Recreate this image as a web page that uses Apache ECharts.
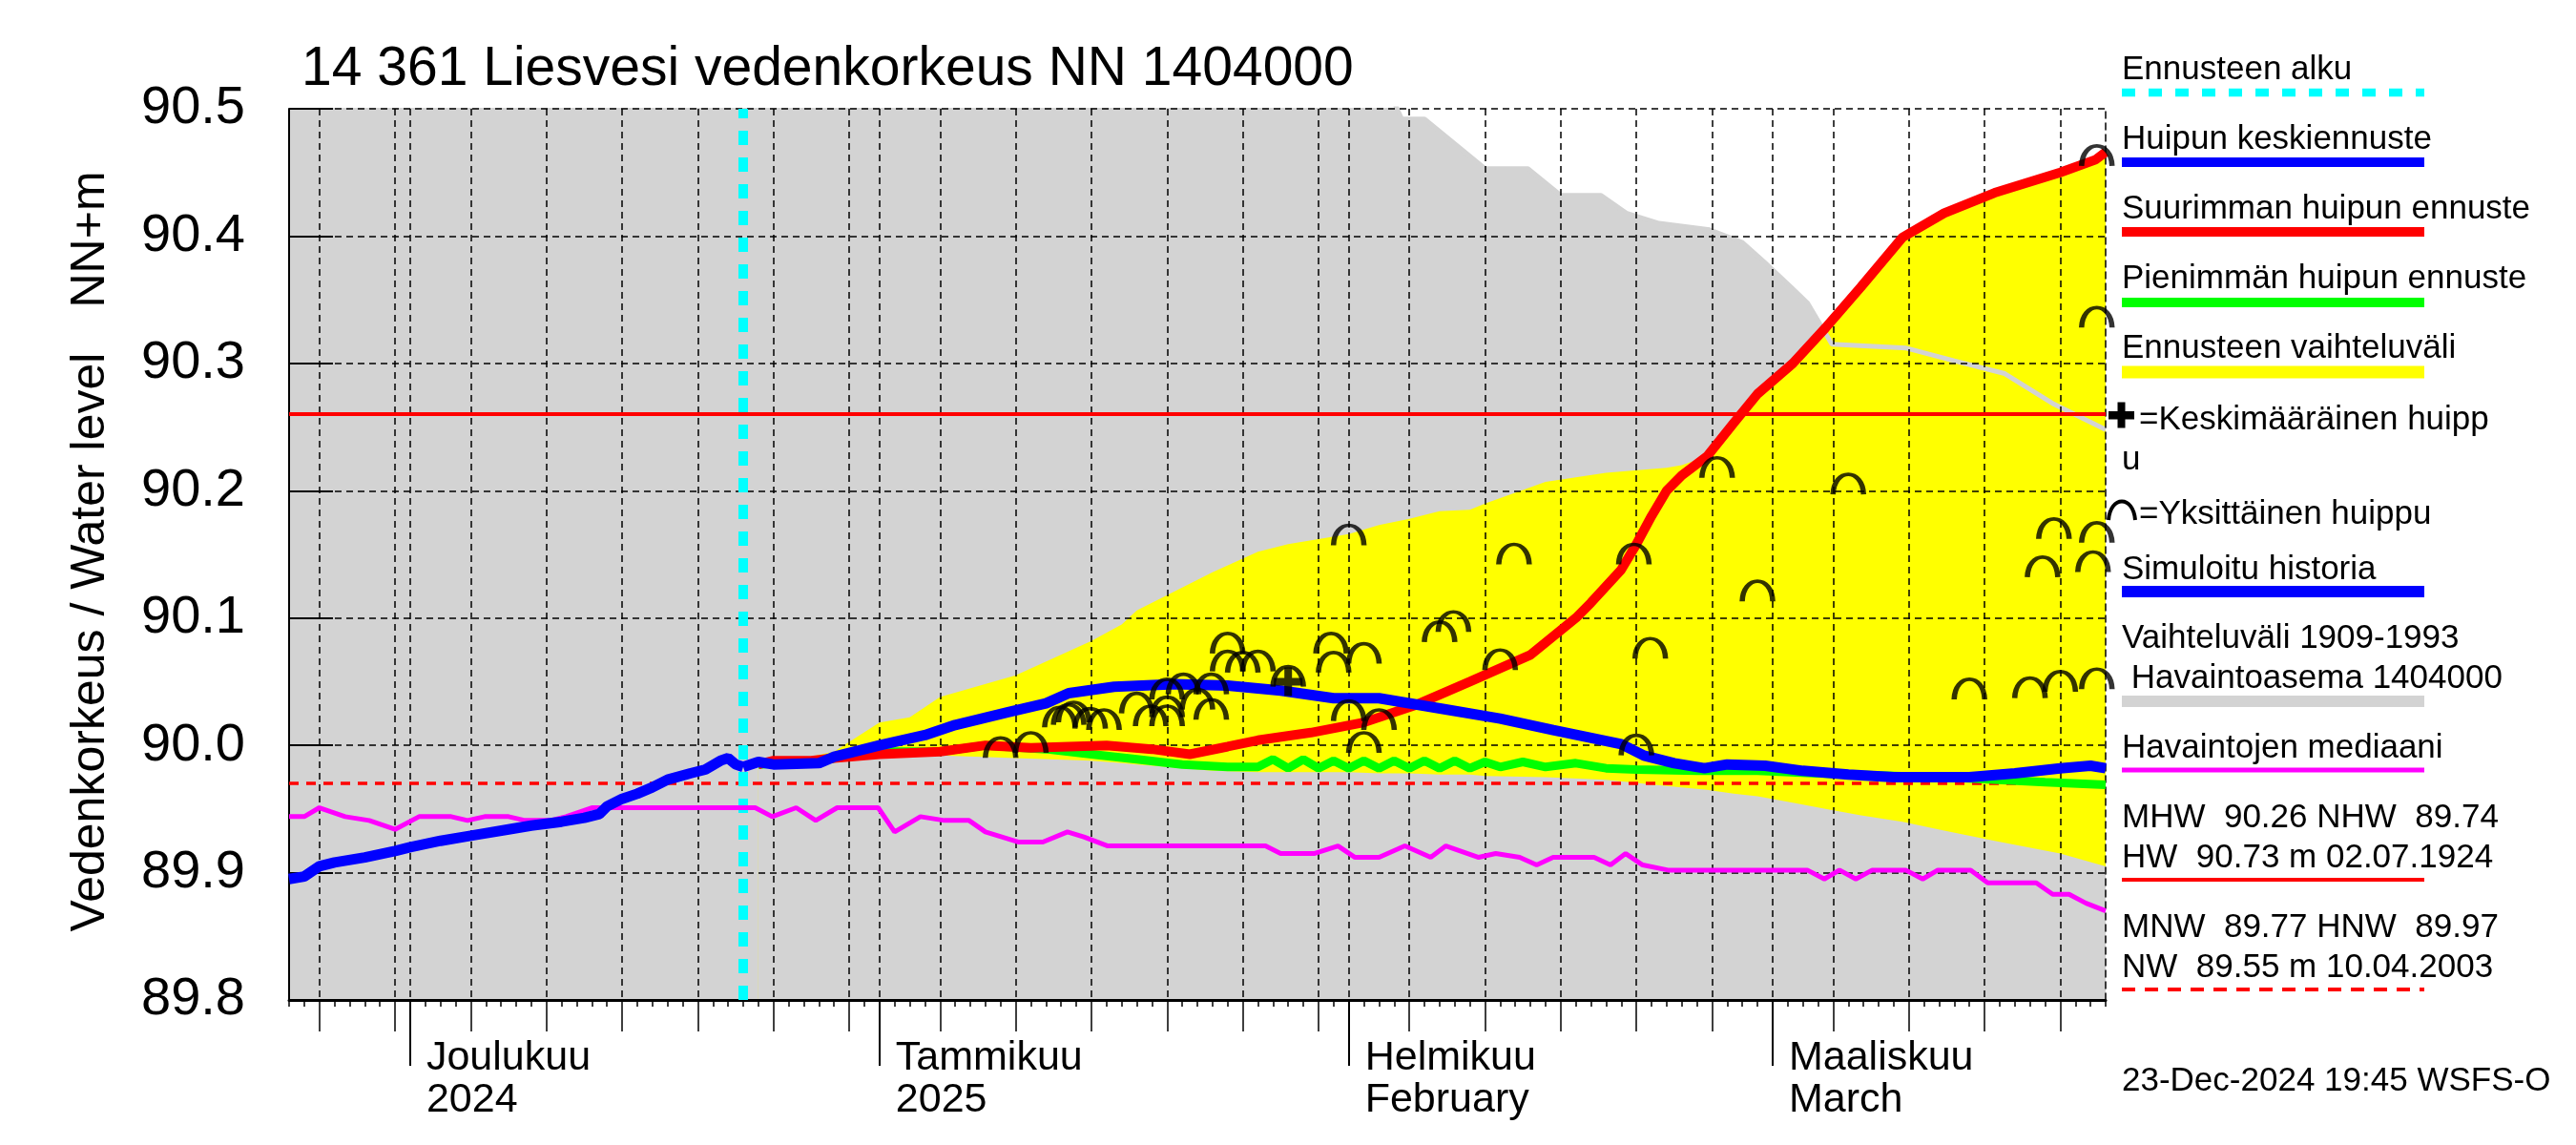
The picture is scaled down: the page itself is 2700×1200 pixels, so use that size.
<!DOCTYPE html>
<html><head><meta charset="utf-8">
<script src="https://cdn.jsdelivr.net/npm/echarts@6/dist/echarts.min.js"></script>
<style>html,body{margin:0;padding:0;background:#fff}#c{width:2700px;height:1200px}</style>
</head><body><div id="c"></div>
<script>
// ---------- data ----------
const START = '2024-11-23', END = '2025-03-23', FORECAST = '2024-12-23';
const yMin = 89.8, yMax = 90.5, yStep = 0.1;
const MHW = 90.26, HNW = 89.97;
const monthDates = ['2024-12-01','2025-01-01','2025-02-01','2025-03-01'];
const monthLabels = ['Joulukuu\n2024','Tammikuu\n2025','Helmikuu\nFebruary','Maaliskuu\nMarch'];
const gridDates = ['2024-11-25','2024-11-30','2024-12-01','2024-12-05','2024-12-10','2024-12-15','2024-12-20','2024-12-25','2024-12-30',
  '2025-01-01','2025-01-05','2025-01-10','2025-01-15','2025-01-20','2025-01-25','2025-01-30',
  '2025-02-01','2025-02-05','2025-02-10','2025-02-15','2025-02-20','2025-02-25',
  '2025-03-01','2025-03-05','2025-03-10','2025-03-15','2025-03-20'];

// Vaihteluväli 1909-1993 (upper edge; band reaches below axis)
const grayDates = ['2024-11-23','2025-02-03','2025-02-04','2025-02-04T12','2025-02-06','2025-02-10','2025-02-12T20','2025-02-15','2025-02-17T16',
  '2025-02-19T08','2025-02-21T12','2025-02-24T20','2025-02-27','2025-02-28T12','2025-03-02T05','2025-03-03T08','2025-03-04T22',
  '2025-03-09T20','2025-03-13','2025-03-16T08','2025-03-19T14','2025-03-23'];
const grayUpper = [90.6,90.56,90.505,90.492,90.492,90.453,90.453,90.432,90.432,
  90.418,90.41,90.405,90.395,90.379,90.36,90.347,90.315,
  90.312,90.302,90.292,90.268,90.248];

// Ennusteen vaihteluväli
const yellowDates = ['2024-12-24','2024-12-27','2024-12-29','2025-01-01','2025-01-03','2025-01-05','2025-01-10','2025-01-15','2025-01-17',
  '2025-01-18','2025-01-20','2025-01-23','2025-01-26','2025-01-28','2025-02-01','2025-02-03','2025-02-05','2025-02-07','2025-02-09',
  '2025-02-10','2025-02-14','2025-02-18','2025-02-22','2025-02-23','2025-02-24T16','2025-02-26T10','2025-02-28','2025-03-02T08',
  '2025-03-04T12','2025-03-06T20','2025-03-09T14','2025-03-12T08','2025-03-15T16','2025-03-20','2025-03-23'];
const yellowLower = [89.984,89.985,89.987,89.99,89.992,89.992,89.99,89.988,89.986,
  89.985,89.983,89.98,89.979,89.979,89.979,89.978,89.978,89.977,89.977,
  89.976,89.975,89.973,89.968,89.967,89.965,89.962,89.96,89.955,
  89.95,89.945,89.94,89.933,89.925,89.915,89.905];
const yellowUpper = [89.986,89.99,89.995,90.018,90.022,90.038,90.055,90.082,90.095,
  90.106,90.118,90.136,90.152,90.158,90.166,90.173,90.178,90.184,90.185,
  90.19,90.207,90.214,90.218,90.22,90.227,90.253,90.276,90.3,
  90.328,90.36,90.399,90.418,90.434,90.45,90.466];

// Simuloitu historia
const histDates = ['2024-11-23','2024-11-24','2024-11-25','2024-11-26','2024-11-28','2024-11-30','2024-12-01','2024-12-03','2024-12-05',
  '2024-12-07T12','2024-12-09','2024-12-11','2024-12-12T12','2024-12-13T12','2024-12-14','2024-12-15','2024-12-16','2024-12-17',
  '2024-12-18','2024-12-19T12','2024-12-20T12','2024-12-21T12','2024-12-22','2024-12-22T12','2024-12-23'];
const histValues = [89.895,89.897,89.905,89.908,89.912,89.917,89.92,89.925,89.929,
  89.934,89.937,89.94,89.943,89.946,89.952,89.958,89.962,89.967,
  89.973,89.978,89.981,89.988,89.99,89.985,89.983];

// Huipun keskiennuste
const meanDates = ['2024-12-23','2024-12-24','2024-12-25','2024-12-28','2024-12-29','2025-01-01','2025-01-04','2025-01-06','2025-01-09T12',
  '2025-01-12','2025-01-13T12','2025-01-16T12','2025-01-20T12','2025-01-24','2025-01-27T12','2025-01-31','2025-02-03','2025-02-07T12',
  '2025-02-11','2025-02-14T12','2025-02-19','2025-02-20T12','2025-02-22T12','2025-02-24T12','2025-02-26','2025-02-28T12','2025-03-03',
  '2025-03-06','2025-03-09','2025-03-14','2025-03-17','2025-03-20','2025-03-22','2025-03-23'];
const meanValues = [89.983,89.987,89.985,89.986,89.991,90.0,90.008,90.016,90.026,
  90.033,90.041,90.046,90.048,90.047,90.043,90.037,90.037,90.028,
  90.021,90.012,90.001,89.992,89.986,89.982,89.985,89.984,89.98,
  89.977,89.975,89.975,89.978,89.982,89.984,89.982];

// Suurimman huipun ennuste
const maxDates = ['2024-12-24','2024-12-25','2024-12-27T12','2024-12-29','2025-01-01','2025-01-05','2025-01-08','2025-01-11','2025-01-16',
  '2025-01-19','2025-01-21T12','2025-01-24','2025-01-26','2025-01-29T12','2025-02-02','2025-02-05T12','2025-02-09','2025-02-13',
  '2025-02-16','2025-02-17','2025-02-18','2025-02-19','2025-02-20','2025-02-21','2025-02-22','2025-02-23','2025-02-24T16',
  '2025-02-26T10','2025-02-28','2025-03-02T08','2025-03-04T12','2025-03-06T20','2025-03-09T14','2025-03-12T08','2025-03-15T16',
  '2025-03-20','2025-03-22T08','2025-03-23'];
const maxValues = [89.985,89.988,89.988,89.99,89.993,89.995,90.0,89.998,90.0,
  89.997,89.993,89.999,90.004,90.01,90.018,90.032,90.05,90.071,
  90.1,90.112,90.125,90.138,90.158,90.18,90.2,90.212,90.227,
  90.253,90.276,90.3,90.328,90.36,90.399,90.418,90.434,
  90.45,90.46,90.466];

// Pienimmän huipun ennuste
const minDates = ['2024-12-24','2024-12-28','2025-01-01','2025-01-05','2025-01-08','2025-01-12','2025-01-15','2025-01-18','2025-01-21',
  '2025-01-24','2025-01-26','2025-01-27','2025-01-28','2025-01-29','2025-01-30','2025-01-31','2025-02-01','2025-02-02','2025-02-03',
  '2025-02-04','2025-02-05','2025-02-06','2025-02-07','2025-02-08','2025-02-09','2025-02-10','2025-02-11','2025-02-12T12','2025-02-14',
  '2025-02-16','2025-02-18','2025-02-20','2025-02-24','2025-02-28','2025-03-04','2025-03-09','2025-03-14','2025-03-19','2025-03-23'];
const minValues = [89.985,89.988,89.995,89.995,90.0,89.997,89.993,89.989,89.985,
  89.983,89.983,89.989,89.982,89.989,89.982,89.988,89.982,89.988,89.982,
  89.988,89.982,89.988,89.982,89.988,89.982,89.987,89.983,89.987,89.983,
  89.986,89.982,89.981,89.98,89.98,89.978,89.976,89.974,89.971,89.969];

// Havaintojen mediaani
const medianDates = ['2024-11-23','2024-11-24','2024-11-25','2024-11-26T17','2024-11-28T07','2024-11-30','2024-12-01T14','2024-12-03T17',
  '2024-12-04T19','2024-12-05T22','2024-12-07T12','2024-12-08T14','2024-12-10T07','2024-12-11T07','2024-12-13','2024-12-23T19',
  '2024-12-24T22','2024-12-26T12','2024-12-27T19','2024-12-29T05','2024-12-31T22','2025-01-02','2025-01-03T17','2025-01-05T07',
  '2025-01-06T22','2025-01-08','2025-01-10T05','2025-01-11T19','2025-01-13T10','2025-01-14T12','2025-01-16T02','2025-01-26T12',
  '2025-01-27T12','2025-01-29T17','2025-01-31T07','2025-02-01T10','2025-02-03','2025-02-04T17','2025-02-06T10','2025-02-07T10',
  '2025-02-09T14','2025-02-10T17','2025-02-12T07','2025-02-13T10','2025-02-14T12','2025-02-17T05','2025-02-18T07','2025-02-19T07',
  '2025-02-20T10','2025-02-22T02','2025-03-03T07','2025-03-04T10','2025-03-05T10','2025-03-06T12','2025-03-07T14','2025-03-09T19',
  '2025-03-10T22','2025-03-11T22','2025-03-14T02','2025-03-15T05','2025-03-18T10','2025-03-19T12','2025-03-20T14','2025-03-21T17','2025-03-23'];
const medianValues = [89.944,89.944,89.951,89.944,89.941,89.934,89.944,89.944,
  89.941,89.944,89.944,89.941,89.941,89.944,89.951,89.951,
  89.944,89.951,89.941,89.951,89.951,89.932,89.944,89.941,
  89.941,89.932,89.924,89.924,89.932,89.928,89.921,89.921,
  89.915,89.915,89.921,89.912,89.912,89.921,89.912,89.921,
  89.912,89.915,89.912,89.906,89.912,89.912,89.906,89.915,
  89.906,89.902,89.902,89.895,89.902,89.895,89.902,89.902,
  89.895,89.902,89.902,89.892,89.892,89.883,89.883,89.876,89.87];

// Yksittäinen huippu
const peakDates = ['2025-01-09','2025-01-11','2025-01-12T22','2025-01-13T12','2025-01-13T20','2025-01-14T22','2025-01-15T20',
  '2025-01-18','2025-01-18T22','2025-01-20','2025-01-20','2025-01-20','2025-01-21T02','2025-01-22','2025-01-22T22','2025-01-22T22',
  '2025-01-24','2025-01-24','2025-01-25','2025-01-26','2025-01-28',
  '2025-01-30T20','2025-01-31','2025-02-01','2025-02-01','2025-02-02','2025-02-03','2025-02-02',
  '2025-02-07','2025-02-07T22','2025-02-11','2025-02-11T22','2025-02-19T20','2025-02-20','2025-02-20T22',
  '2025-02-25T08','2025-02-28','2025-03-06','2025-03-14','2025-03-18','2025-03-18T20','2025-03-19T14','2025-03-20',
  '2025-03-22T10','2025-03-22T10','2025-03-22T10','2025-03-22T04','2025-03-22T10'];
const peakValues = [89.998,90.002,90.022,90.024,90.026,90.021,90.02,
  90.033,90.023,90.023,90.030,90.044,90.048,90.036,90.028,90.048,
  90.08,90.066,90.065,90.066,90.054,
  90.08,90.065,90.165,90.027,90.072,90.02,90.002,
  90.089,90.097,90.067,90.15,90.15,90.0,90.076,
  90.218,90.121,90.205,90.044,90.045,90.14,90.17,90.05,
  90.463,90.336,90.167,90.144,90.052];
// Keskimääräinen huippu
const meanPeakDate = ['2025-01-28'];
const meanPeakValue = [90.05];

// ---------- helpers ----------
function t(s){ const p=s.split('T'); const d=p[0].split('-').map(Number); return Date.UTC(d[0],d[1]-1,d[2],p[1]?Number(p[1]):0); }
function zip(ds, vs){ return ds.map((d,i)=>[t(d), vs[i]]); }
const FONT = '"Liberation Sans", Arial, Helvetica, sans-serif';
const DAY = 86400000;
const G = {left:303, top:114, width:1904, height:934};

const baseX = {type:'value', min:t(START), max:t(END), gridIndex:0, position:'bottom', z:3,
  axisLine:{onZero:false}, splitLine:{show:false}, axisLabel:{show:false}};
const xAxes = [
  Object.assign({}, baseX, {interval:DAY,
    axisLine:{show:true,onZero:false,lineStyle:{color:'#000',width:3}},
    axisTick:{show:true,length:7,lineStyle:{color:'#000',width:1.5}}}),
  Object.assign({}, baseX, {axisLine:{show:false,onZero:false},
    axisTick:{show:true,length:33,customValues:gridDates.map(t),lineStyle:{color:'#000',width:1.5}},
    splitLine:{show:true,lineStyle:{color:'#000',width:1.5,type:[7,5]}}}),
  Object.assign({}, baseX, {axisLine:{show:false,onZero:false},
    axisTick:{show:true,length:69,customValues:monthDates.map(t),lineStyle:{color:'#000',width:2}},
    axisLabel:{show:true,customValues:monthDates.map(t),
      formatter:(v)=>{const i=monthDates.map(t).indexOf(v); return i>=0?monthLabels[i]:'';},
      align:'left',verticalAlign:'top',margin:39,padding:[0,0,0,17],
      fontFamily:FONT,fontSize:43,lineHeight:44,color:'#000'}})
];

const option = {
  animation:false,
  backgroundColor:'#fff',
  grid:G,
  xAxis:xAxes,
  yAxis:[
    {type:'value',min:yMin,max:yMax,interval:yStep,position:'left',z:3,
      axisLine:{show:true,lineStyle:{color:'#000',width:2}},
      axisTick:{show:true,inside:true,length:46,lineStyle:{color:'#000',width:2}},
      axisLabel:{fontFamily:FONT,fontSize:56,color:'#000',margin:46,formatter:(v)=>v.toFixed(1)},
      splitLine:{show:true,lineStyle:{color:'#000',width:1.5,type:[7,5]}}},
    {type:'value',min:yMin,max:yMax,interval:yStep,position:'right',z:3,
      axisLine:{show:true,lineStyle:{color:'#000',width:1.5,type:[7,5]}},
      axisTick:{show:false},axisLabel:{show:false},splitLine:{show:false}}
  ],
  series:[
    {name:'Vaihteluväli',type:'line',data:zip(grayDates,grayUpper),showSymbol:false,silent:true,z:1,
      lineStyle:{opacity:0},areaStyle:{color:'#d3d3d3',opacity:1,origin:'start'}},
    // forecast range: yellow down to its lower edge; below the lower edge the historic range (gray) shows again
    {name:'Ennusteen vaihteluväli',type:'line',data:zip(yellowDates,yellowUpper),showSymbol:false,silent:true,z:1,
      lineStyle:{opacity:0},areaStyle:{color:'#ffff00',opacity:1,origin:'start'}},
    {name:'yLowEdge',type:'line',data:zip(yellowDates,yellowLower),showSymbol:false,silent:true,z:1,
      lineStyle:{opacity:0},areaStyle:{color:'#d3d3d3',opacity:1,origin:'start'}},
    {name:'grayEdge',type:'line',data:zip(grayDates,grayUpper),showSymbol:false,silent:true,z:2,
      lineStyle:{color:'#d3d3d3',width:5}},
    {name:'refs',type:'line',data:[],z:4,silent:true,
      markLine:{silent:true,symbol:['none','none'],label:{show:false},animation:false,
        data:[
          {yAxis:MHW,lineStyle:{color:'#ff0000',width:4,type:'solid'}},
          {yAxis:HNW,lineStyle:{color:'#ff0000',width:3.5,type:[10,8]}},
          {xAxis:t(FORECAST),lineStyle:{color:'#00ffff',width:10,type:[15,13]}}
        ]}},
    {name:'Havaintojen mediaani',type:'line',data:zip(medianDates,medianValues),showSymbol:false,z:5,
      lineStyle:{color:'#ff00ff',width:5}},
    {name:'Pienimmän huipun ennuste',type:'line',data:zip(minDates,minValues),showSymbol:false,z:6,
      lineStyle:{color:'#00ff00',width:9}},
    {name:'Suurimman huipun ennuste',type:'line',data:zip(maxDates,maxValues),showSymbol:false,z:7,
      lineStyle:{color:'#ff0000',width:10}},
    {name:'Simuloitu historia',type:'line',data:zip(histDates,histValues),showSymbol:false,z:8,
      lineStyle:{color:'#0000ff',width:11}},
    {name:'Huipun keskiennuste',type:'line',data:zip(meanDates,meanValues),showSymbol:false,z:8,
      lineStyle:{color:'#0000ff',width:11}},
    {name:'Yksittäinen huippu',type:'scatter',data:zip(peakDates,peakValues),z:9,silent:true,
      symbol:'path://M0,20 C1,-6 29,-6 30,20',symbolSize:[32,21],
      itemStyle:{color:'rgba(0,0,0,0)',borderColor:'#000',borderWidth:4.5}},
    {name:'Keskimääräinen huippu',type:'scatter',data:zip(meanPeakDate,meanPeakValue),z:10,silent:true,
      symbol:'path://M11,0 H19 V11 H30 V19 H19 V30 H11 V19 H0 V11 H11 Z',symbolSize:[30,30],
      itemStyle:{color:'#000'}}
  ],
  graphic:[]
};

// ---------- title, axis names, legend (text) ----------
const gr = option.graphic;
function txt(x,y,s,fs,extra){ gr.push(Object.assign({type:'text',x:x,y:y,silent:true,z:20,
  style:{text:s,fontFamily:FONT,fontSize:fs,fill:'#000',textAlign:'left',textVerticalAlign:'middle',verticalAlign:'middle'}}, extra||{})); }
function seg(y,color,w,dash){ gr.push({type:'line',silent:true,z:20,shape:{x1:2224,y1:y,x2:2541,y2:y},
  style:{stroke:color,lineWidth:w,lineDash:dash||null}}); }

txt(316,73,'14 361 Liesvesi vedenkorkeus NN 1404000',57);
gr.push({type:'text',x:95,y:673,rotation:Math.PI/2,silent:true,z:20,
  style:{text:'Vedenkorkeus / Water level',fontFamily:FONT,fontSize:50,fill:'#000',align:'center',verticalAlign:'middle'}});
gr.push({type:'text',x:95,y:251,rotation:Math.PI/2,silent:true,z:20,
  style:{text:'NN+m',fontFamily:FONT,fontSize:50,fill:'#000',align:'center',verticalAlign:'middle'}});

const LX = 2224, LF = 35, D = 5;
txt(LX,68+D,'Ennusteen alku',LF);            seg(97,'#00ffff',8.5,[14,14]);
txt(LX,141+D,'Huipun keskiennuste',LF);      seg(170,'#0000ff',10);
txt(LX,214+D,'Suurimman huipun ennuste',LF); seg(243,'#ff0000',10);
txt(LX,287+D,'Pienimmän huipun ennuste',LF); seg(317,'#00ff00',10);
txt(LX,360+D,'Ennusteen vaihteluväli',LF);   seg(390,'#ffff00',13);
gr.push({type:'rect',silent:true,z:20,shape:{x:2210,y:431,width:27,height:8.5},style:{fill:'#000'}});
gr.push({type:'rect',silent:true,z:20,shape:{x:2219.5,y:421.5,width:8,height:27},style:{fill:'#000'}});
txt(2242,435+D,'=Keskimääräinen huipp',LF);
txt(LX,477+D,'u',LF);
gr.push({type:'bezierCurve',silent:true,z:20,shape:{x1:2210,y1:545,cpx1:2212,cpy1:519,cpx2:2236,cpy2:519,x2:2238,y2:545},
  style:{stroke:'#000',lineWidth:4,fill:null}});
txt(2242,534+D,'=Yksittäinen huippu',LF);
txt(LX,592+D,'Simuloitu historia',LF);       seg(620,'#0000ff',12);
txt(LX,664+D,'Vaihteluväli 1909-1993',LF);
txt(LX,706+D,' Havaintoasema 1404000',LF);   seg(735,'#d3d3d3',12);
txt(LX,779+D,'Havaintojen mediaani',LF);     seg(807,'#ff00ff',5);
txt(LX,852+D,'MHW  90.26 NHW  89.74',LF);
txt(LX,894+D,'HW  90.73 m 02.07.1924',LF);   seg(922,'#ff0000',4);
txt(LX,967+D,'MNW  89.77 HNW  89.97',LF);
txt(LX,1009+D,'NW  89.55 m 10.04.2003',LF);  seg(1037,'#ff0000',4,[14,10]);
txt(LX,1128+D,'23-Dec-2024 19:45 WSFS-O',LF);

const chart = echarts.init(document.getElementById('c'), null, {renderer:'canvas'});
chart.setOption(option);
</script></body></html>
